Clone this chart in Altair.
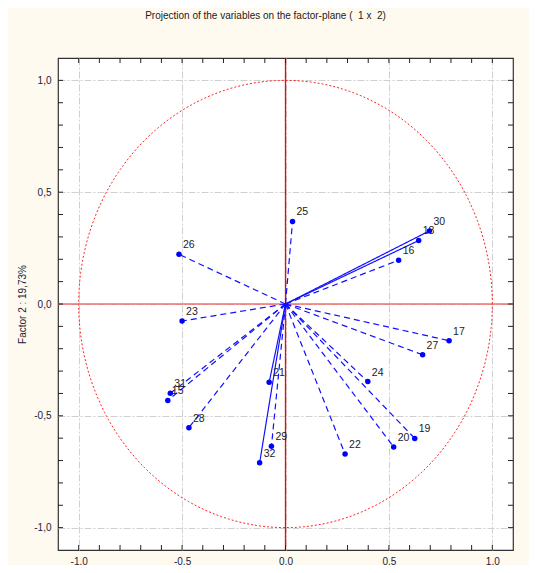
import altair as alt
import pandas as pd
import numpy as np

labels = ["25", "26", "23", "30", "18", "16", "17", "27", "24", "19", "20", "22", "32", "29", "21", "28", "31", "15"]
fx = [0.034, -0.515, -0.500, 0.696, 0.644, 0.547, 0.791, 0.663, 0.398, 0.625, 0.523, 0.288, -0.125, -0.068, -0.079, -0.467, -0.557, -0.569]
fy = [0.369, 0.222, -0.076, 0.327, 0.284, 0.196, -0.164, -0.227, -0.347, -0.601, -0.639, -0.671, -0.710, -0.636, -0.350, -0.553, -0.399, -0.431]
styles = ["dashed", "dashed", "dashed", "solid", "solid", "dashed", "dashed", "dashed", "dashed", "dashed", "dashed", "dashed", "solid", "dashed", "solid", "dashed", "dashed", "dashed"]

major_ticks = [-1.0, -0.5, 0.0, 0.5, 1.0]
minor_ticks = [-1.0, -0.9, -0.8, -0.7, -0.6, -0.5, -0.4, -0.3, -0.2, -0.1, 0.0,
               0.1, 0.2, 0.3, 0.4, 0.5, 0.6, 0.7, 0.8, 0.9, 1.0]

W, H = 455, 492
DOM = [-1.1, 1.1]

df = pd.DataFrame({"label": labels, "x": fx, "y": fy, "style": styles})
df["x0"] = 0.0
df["y0"] = 0.0

theta = np.linspace(0, 2 * np.pi, 361)
circle = pd.DataFrame({"cx": np.cos(theta), "cy": np.sin(theta), "i": np.arange(361)})
ticks = pd.DataFrame({"t": minor_ticks})
vzero = pd.DataFrame({"vz": [0.0]})
hzero = pd.DataFrame({"hz": [0.0]})

lab_expr = "(datum.value < 0 ? '-' : '') + replace(format(abs(datum.value), '.1f'), '.', ',')"
xs = alt.Scale(domain=DOM, nice=False, zero=False)
ys = alt.Scale(domain=DOM, nice=False, zero=False)

xaxis = alt.Axis(values=major_ticks, labelExpr=lab_expr, ticks=False, domain=False,
                 grid=True, gridColor="#d0d0d0", gridDash=[7, 2, 2, 2], labelPadding=6,
                 labelFont="Liberation Sans", labelFontSize=10, labelColor="#1a1a3a", title=None)
yaxis = alt.Axis(values=major_ticks, labelExpr=lab_expr, ticks=False, domain=False,
                 grid=True, gridColor="#d0d0d0", gridDash=[7, 2, 2, 2], labelPadding=7,
                 labelFont="Liberation Sans", labelFontSize=10, labelColor="#1a1a3a",
                 title="Factor 2 : 19,73%", titleFont="Liberation Sans", titleFontSize=10,
                 titleFontWeight="normal", titleColor="#1a1a3a", titlePadding=6)

base_circle = alt.Chart(circle).mark_line(color="#ff2020", strokeDash=[2, 2], strokeWidth=1).encode(
    x=alt.X("cx:Q", scale=xs, axis=xaxis),
    y=alt.Y("cy:Q", scale=ys, axis=yaxis),
    order="i:Q",
)

vline = alt.Chart(vzero).mark_rule(strokeWidth=1.3).encode(
    x=alt.X("vz:Q", scale=xs), y=alt.value(0), y2=alt.value(H), color=alt.value("#ff0000"))
hline = alt.Chart(hzero).mark_rule(strokeWidth=1.5, opacity=0.9).encode(
    y=alt.Y("hz:Q", scale=ys), x=alt.value(0), x2=alt.value(W), color=alt.value("#f06060"))

vectors = alt.Chart(df).mark_rule(color="#1010ff", strokeWidth=1.2).encode(
    x=alt.X("x0:Q", scale=xs), y=alt.Y("y0:Q", scale=ys),
    x2="x:Q", y2="y:Q",
    strokeDash=alt.StrokeDash("style:N", scale=alt.Scale(domain=["solid", "dashed"], range=[[1, 0], [6, 4]]), legend=None),
)

points = alt.Chart(df).mark_circle(size=30, color="#0000ff", opacity=1).encode(
    x=alt.X("x:Q", scale=xs), y=alt.Y("y:Q", scale=ys))

text = alt.Chart(df).mark_text(align="left", baseline="middle", dx=4, dy=-9, fontSize=10.5,
                               font="Liberation Sans", color="#222222").encode(
    x=alt.X("x:Q", scale=xs), y=alt.Y("y:Q", scale=ys), text="label:N")

tk_b = alt.Chart(ticks).mark_rule(color="#222222").encode(x=alt.X("t:Q", scale=xs), y=alt.value(H), y2=alt.value(H - 5))
tk_t = alt.Chart(ticks).mark_rule(color="#222222").encode(x=alt.X("t:Q", scale=xs), y=alt.value(0), y2=alt.value(5))
tk_l = alt.Chart(ticks).mark_rule(color="#222222").encode(y=alt.Y("t:Q", scale=ys), x=alt.value(0), x2=alt.value(5))
tk_r = alt.Chart(ticks).mark_rule(color="#222222").encode(y=alt.Y("t:Q", scale=ys), x=alt.value(W), x2=alt.value(W - 5))

chart = alt.layer(base_circle, vline, hline, vectors, points, text, tk_b, tk_t, tk_l, tk_r).properties(
    width=W, height=H,
    background="#fffaf0",
    autosize=alt.AutoSizeParams(type="none"),
    padding={"left": 50, "top": 50, "right": 16, "bottom": 15},
    title=alt.TitleParams("Projection of the variables on the factor-plane (\u00a0 1 x \u00a02)", fontSize=10,
                          font="Liberation Sans", fontWeight="normal", color="#1a1a1a",
                          offset=36, dx=-20, anchor="middle"),
).configure_view(fill="white", stroke="#333333", strokeWidth=1.2)

chart.save("out.html", embed_options={"renderer": "svg", "actions": False})
